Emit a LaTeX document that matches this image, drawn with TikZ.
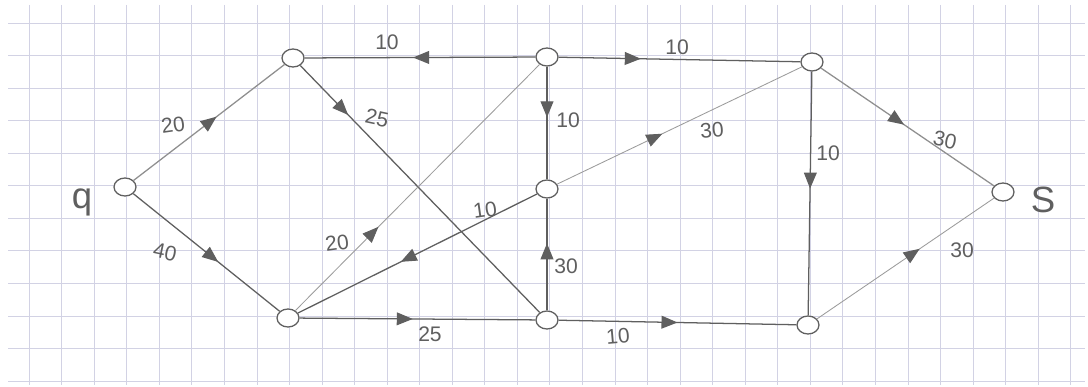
\documentclass[tikz,border=0pt]{standalone}
\usepackage{fontspec}
\setmainfont{Liberation Sans}
\usetikzlibrary{arrows.meta, positioning, shapes.geometric, decorations.markings}
\definecolor{gridline}{RGB}{210,210,228}
\definecolor{pencil}{RGB}{95,95,95}
\definecolor{softpencil}{RGB}{155,155,155}

\begin{document}
\begin{tikzpicture}[x=0.025cm, y=-0.025cm,
  vtx/.style={draw=pencil, ellipse, line width=0.9pt, minimum width=0.55cm, minimum height=0.45cm, inner sep=0pt, fill=white},
  edge/.style={draw=pencil, line width=0.9pt},
  faint/.style={draw=softpencil, line width=0.6pt},
  flowat/.style={postaction={decorate, decoration={markings, mark=at position #1 with {\arrow[pencil]{Triangle[length=4mm, width=3.2mm]}}}}},
  lbl/.style={text=pencil, font=\fontsize{15}{18}\selectfont},
  endlbl/.style={text=pencil, font=\fontsize{26}{30}\selectfont}]

  % squared paper
  \fill[white] (0,0) rectangle (1088,387);
  \foreach \k in {0,...,11}
    \draw[gridline, line width=0.5pt] (8,23+32.55*\k) -- (1085,23+32.55*\k);
  \foreach \k in {0,...,32}
    \draw[gridline, line width=0.5pt] (29+32.55*\k,5) -- (29+32.55*\k,385);

  % vertices
  \node[vtx] (q) at (125,187) {};
  \node[vtx] (a) at (293,58) {};
  \node[vtx] (b) at (288,318) {};
  \node[vtx] (c) at (547,57) {};
  \node[vtx] (d) at (547,189) {};
  \node[vtx] (e) at (547,320) {};
  \node[vtx] (f) at (812,62) {};
  \node[vtx] (g) at (808,325) {};
  \node[vtx] (s) at (1003,192) {};

  \node[endlbl] (qname) at (82,202) {q};
  \node[endlbl] (sname) at (1043,200) {S};

  % flows
  \draw[edge, draw=softpencil!80!pencil, flowat=0.55] (q) -- (a);
  \draw[edge, flowat=0.58] (q) -- (b);
  \draw[edge, flowat=0.53] (c) -- (a);
  \draw[edge, flowat=0.34] (c) -- (f);
  \draw[edge, flowat=0.2] (a) -- (e);
  \draw[edge, flowat=0.45] (c) -- (d);
  \draw[faint, flowat=0.34] (b) -- (c);
  \draw[edge, flowat=0.57] (d) -- (b);
  \draw[faint, flowat=0.43] (d) -- (f);
  \draw[edge, flowat=0.6] (e) -- (d);
  \draw[edge, flowat=0.48] (b) -- (e);
  \draw[edge, flowat=0.5] (e) -- (g);
  \draw[edge, flowat=0.48] (f) -- (g);
  \draw[edge, draw=softpencil!80!pencil, flowat=0.48] (f) -- (s);
  \draw[faint, flowat=0.58] (g) -- (s);

  % capacities
  \node[lbl, rotate=8] (lqa) at (173,125) {20};
  \node[lbl, rotate=-12] (lqb) at (165,252) {40};
  \node[lbl] (lca) at (387,42) {10};
  \node[lbl, rotate=-12] (lae) at (377,118) {25};
  \node[lbl] (lcd) at (568,120) {10};
  \node[lbl, rotate=8] (lbc) at (337,243) {20};
  \node[lbl, rotate=8] (ldb) at (485,210) {10};
  \node[lbl] (led) at (566,266) {30};
  \node[lbl] (lbe) at (430,334) {25};
  \node[lbl, rotate=5] (leg) at (618,336) {10};
  \node[lbl, rotate=5] (ldf) at (712,130) {30};
  \node[lbl] (lcf) at (677,47) {10};
  \node[lbl] (lfg) at (828,153) {10};
  \node[lbl, rotate=-12] (lfs) at (945,140) {30};
  \node[lbl] (lgs) at (962,250) {30};
\end{tikzpicture}
\end{document}
